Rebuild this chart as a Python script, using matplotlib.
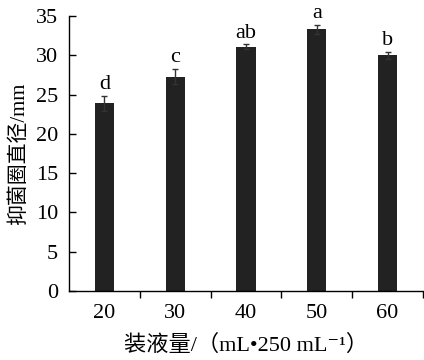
import matplotlib.pyplot as plt
import numpy as np

volumes = ['20', '30', '40', '50', '60']
diameters = [23.9, 27.3, 31.1, 33.3, 30.0]
errors = [0.95, 1.0, 0.35, 0.6, 0.45]
letters = ['d', 'c', 'ab', 'a', 'b']

plt.rcParams['font.family'] = ['Liberation Serif', 'Noto Sans CJK SC', 'DejaVu Serif']

fig = plt.figure(figsize=(4.24, 3.6), dpi=100)
ax = fig.add_axes([69 / 424, 1 - 291 / 360, 354 / 424, 275 / 360])

x = np.arange(len(volumes))
ax.bar(x, diameters, width=0.27, color='#222222', zorder=2)
ax.errorbar(x, diameters, yerr=errors, fmt='none', ecolor='#333333',
            elinewidth=1, capsize=2.5, capthick=1, zorder=3)

for xi, v, e, lab in zip(x, diameters, errors, letters):
    ax.annotate(lab, (xi, v + e), xytext=(0, 1), textcoords='offset points',
                ha='center', va='bottom', fontsize=16)

ax.set_xlim(-0.5, 4.5)
ax.set_ylim(0, 35)
ax.set_yticks(range(0, 36, 5))
ax.set_xticks(x)
ax.set_xticklabels(volumes)
ax.set_xticks(np.arange(0.5, 5, 1), minor=True)
ax.tick_params(axis='x', which='major', length=0, labelsize=16, pad=9)
ax.tick_params(axis='x', which='minor', length=5, direction='out', width=1)
ax.tick_params(axis='y', direction='in', length=5, width=1, labelsize=16, pad=8)

for side in ['top', 'right']:
    ax.spines[side].set_visible(False)
for side in ['left', 'bottom']:
    ax.spines[side].set_linewidth(1)

ax.set_ylabel('抑菌圈直径/mm', fontsize=15, labelpad=5)
ax.set_xlabel('装液量/（mL•250 mL⁻¹）', fontsize=16, labelpad=9)

fig.savefig('out.png', dpi=100)
